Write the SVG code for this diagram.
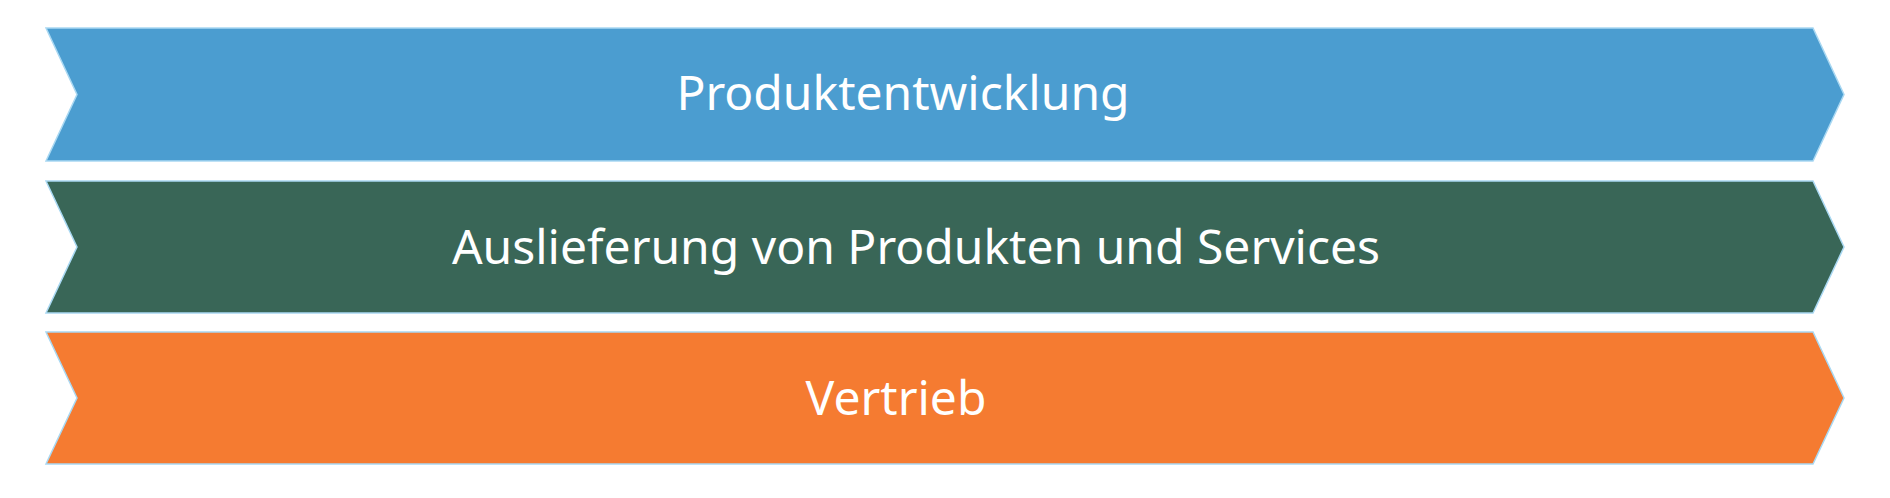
<svg xmlns="http://www.w3.org/2000/svg" width="1890" height="498" viewBox="0 0 1890 498">
<style>
.band{stroke:#a9d8f2;stroke-width:1.5;stroke-linejoin:miter}
.lbl{font-family:"Noto Sans","Open Sans","DejaVu Sans",sans-serif;font-size:48px;fill:#ffffff;text-anchor:middle}
</style>
<rect width="1890" height="498" fill="#ffffff"/>
<g id="produktentwicklung">
<polygon class="band" fill="#4b9dd0" points="46,28 1813,28 1844,94.5 1813,161 46,161 77,94.5"/>
<text class="lbl" x="903" y="110">Produktentwicklung</text>
</g>
<g id="auslieferung">
<polygon class="band" fill="#396657" points="46,181 1813,181 1844,247 1813,313 46,313 77,247"/>
<text class="lbl" x="916" y="264">Auslieferung von Produkten und Services</text>
</g>
<g id="vertrieb">
<polygon class="band" fill="#f57b31" points="46,332 1813,332 1844,398 1813,464 46,464 77,398"/>
<text class="lbl" x="896" y="415">Vertrieb</text>
</g>
<g id="connectors"/>
</svg>
